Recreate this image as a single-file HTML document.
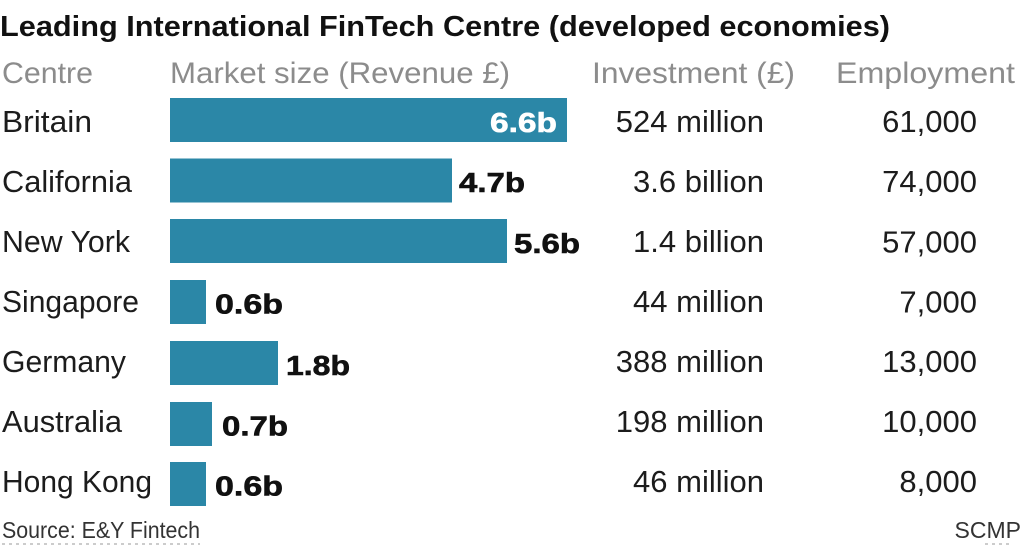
<!DOCTYPE html>
<html>
<head>
<meta charset="utf-8">
<style>
  html,body{margin:0;padding:0;background:#fff;}
  svg{display:block;}
  text{font-family:"Liberation Sans",sans-serif;}
  .lbl{font-size:31px;fill:#1c1c1c;}
  .hdr{font-size:30px;fill:#8c8c8c;}
  .val{font-size:28px;font-weight:bold;fill:#111;stroke:#111;stroke-width:0.6px;}
  .bar{fill:#2b87a7;}
</style>
</head>
<body>
<svg width="1024" height="545" viewBox="0 0 1024 545" xmlns="http://www.w3.org/2000/svg">
  <rect width="1024" height="545" fill="#fff"/>
  <!-- Title -->
  <text x="0" y="36" font-size="29" font-weight="bold" fill="#111" textLength="890" lengthAdjust="spacingAndGlyphs">Leading International FinTech Centre (developed economies)</text>

  <!-- Headers -->
  <text class="hdr" x="2" y="83" textLength="91" lengthAdjust="spacingAndGlyphs">Centre</text>
  <text class="hdr" x="170" y="83" textLength="340" lengthAdjust="spacingAndGlyphs">Market size (Revenue £)</text>
  <text class="hdr" x="592" y="83" textLength="203" lengthAdjust="spacingAndGlyphs">Investment (£)</text>
  <text class="hdr" x="836" y="83" textLength="179" lengthAdjust="spacingAndGlyphs">Employment</text>

  <!-- Bars -->
  <rect class="bar" x="170" y="98" width="397" height="44"/>
  <rect class="bar" x="170" y="158.5" width="282" height="44"/>
  <rect class="bar" x="170" y="219" width="337" height="44"/>
  <rect class="bar" x="170" y="280" width="36" height="44"/>
  <rect class="bar" x="170" y="341" width="108" height="44"/>
  <rect class="bar" x="170" y="402" width="42" height="44"/>
  <rect class="bar" x="170" y="462" width="36" height="44"/>

  <!-- Bar values -->
  <text class="val" x="490" y="132" textLength="67" lengthAdjust="spacingAndGlyphs" style="fill:#fff;stroke:#fff;">6.6b</text>
  <text class="val" x="459" y="192" textLength="66" lengthAdjust="spacingAndGlyphs">4.7b</text>
  <text class="val" x="514" y="253" textLength="66" lengthAdjust="spacingAndGlyphs">5.6b</text>
  <text class="val" x="215" y="313.5" textLength="68" lengthAdjust="spacingAndGlyphs">0.6b</text>
  <text class="val" x="286" y="375" textLength="64" lengthAdjust="spacingAndGlyphs">1.8b</text>
  <text class="val" x="222" y="435.5" textLength="66" lengthAdjust="spacingAndGlyphs">0.7b</text>
  <text class="val" x="215" y="495.5" textLength="68" lengthAdjust="spacingAndGlyphs">0.6b</text>

  <!-- Centre names -->
  <text class="lbl" x="2" y="132" textLength="90" lengthAdjust="spacingAndGlyphs">Britain</text>
  <text class="lbl" x="2" y="192" textLength="130" lengthAdjust="spacingAndGlyphs">California</text>
  <text class="lbl" x="2" y="252" textLength="128" lengthAdjust="spacingAndGlyphs">New York</text>
  <text class="lbl" x="2" y="312" textLength="137" lengthAdjust="spacingAndGlyphs">Singapore</text>
  <text class="lbl" x="2" y="372" textLength="124" lengthAdjust="spacingAndGlyphs">Germany</text>
  <text class="lbl" x="2" y="432" textLength="120" lengthAdjust="spacingAndGlyphs">Australia</text>
  <text class="lbl" x="2" y="492" textLength="150" lengthAdjust="spacingAndGlyphs">Hong Kong</text>

  <!-- Investment -->
  <g text-anchor="end">
    <text class="lbl" x="764" y="132">524 million</text>
    <text class="lbl" x="764" y="192">3.6 billion</text>
    <text class="lbl" x="764" y="252">1.4 billion</text>
    <text class="lbl" x="764" y="312">44 million</text>
    <text class="lbl" x="764" y="372">388 million</text>
    <text class="lbl" x="764" y="432">198 million</text>
    <text class="lbl" x="764" y="492">46 million</text>
  </g>

  <!-- Employment -->
  <g text-anchor="end">
    <text class="lbl" x="977" y="132">61,000</text>
    <text class="lbl" x="977" y="192">74,000</text>
    <text class="lbl" x="977" y="252.5">57,000</text>
    <text class="lbl" x="977" y="312.5">7,000</text>
    <text class="lbl" x="977" y="372">13,000</text>
    <text class="lbl" x="977" y="432">10,000</text>
    <text class="lbl" x="977" y="492">8,000</text>
  </g>

  <!-- Footer -->
  <text x="2" y="538" font-size="23" fill="#333" textLength="198" lengthAdjust="spacingAndGlyphs">Source: E&amp;Y Fintech</text>
  <text x="1021" y="538" font-size="23" fill="#333" text-anchor="end">SCMP</text>
  <line x1="2" y1="544" x2="200" y2="544" stroke="#bbb" stroke-width="1.5" stroke-dasharray="3 4"/>
  <line x1="985" y1="544" x2="1010" y2="544" stroke="#bbb" stroke-width="1.5" stroke-dasharray="3 4"/>
</svg>
</body>
</html>
